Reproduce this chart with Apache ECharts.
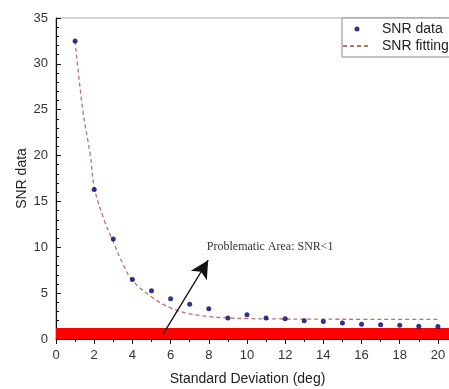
<!DOCTYPE html>
<html>
<head>
    <meta charset="utf-8">
    <title>SNR vs Standard Deviation</title>
    <script src="https://cdn.jsdelivr.net/npm/echarts@6/dist/echarts.min.js"></script>
    <style>
        html, body { margin: 0; padding: 0; background: #fff; }
    </style>
</head>
<body>
    <div id="main" style="width: 449px;height:389px;"></div>
    <script type="text/javascript">

    // measured SNR points
    var stdDev = [1, 2, 3, 4, 5, 6, 7, 8, 9, 10, 11, 12, 13, 14, 15, 16, 17, 18, 19, 20];
    var snrData = [32.5, 16.3, 10.9, 6.5, 5.25, 4.4, 3.8, 3.3, 2.3, 2.65, 2.3, 2.2, 2.0, 1.9, 1.75, 1.6, 1.55, 1.5, 1.4, 1.35];

    // fitted curve
    var fitX = [1, 1.4, 1.8, 2, 2.5, 3, 3.5, 4, 5, 6, 7, 8, 9, 10, 12, 14, 16, 18, 20];
    var fitY = [32.5, 25, 20, 16.6, 13.1, 10.6, 8.2, 6.4, 4.6, 3.4, 2.75, 2.45, 2.3, 2.22, 2.18, 2.16, 2.15, 2.15, 2.15];

    // arrow pointing at the problematic band
    var arrowFrom = [5.6, 0.5];
    var arrowTo = [7.97, 8.6];
    var noteAt = [7.9, 10.0];
    var noteText = 'Problematic Area: SNR<1';
    var bandY = [0, 1.2];

    var myChart = echarts.init(document.getElementById('main'));

    var option = {
        animation: false,
        grid: {
            left: 56, top: 18, width: 401, bottom: 50,
            outerBoundsMode: 'none',
            show: true, borderColor: '#aaa', borderWidth: 1
        },
        legend: {
            left: 342, top: 18,
            orient: 'vertical',
            backgroundColor: '#fff',
            borderColor: '#888', borderWidth: 1, borderRadius: 0,
            padding: [4, 10, 4, 0],
            itemWidth: 28, itemHeight: 5, itemGap: 3,
            textStyle: { fontFamily: 'Arial', fontSize: 14, color: '#222', padding: [0, 0, 0, 6] },
            data: [
                { name: 'SNR data', icon: 'circle' },
                { name: 'SNR fitting', itemStyle: { opacity: 0 } }
            ]
        },
        xAxis: {
            type: 'value',
            min: 0, max: 21, interval: 2,
            name: 'Standard Deviation (deg)',
            nameLocation: 'middle', nameGap: 33,
            nameTextStyle: { fontFamily: 'Arial', fontSize: 14, color: '#222', padding: [0, 18, 0, 0] },
            axisLine: { lineStyle: { color: '#111', width: 1.2 } },
            axisTick: { inside: false, length: 5, lineStyle: { color: '#111' } },
            minorTick: { show: true, splitNumber: 2, length: 3, lineStyle: { color: '#111' } },
            axisLabel: { fontFamily: 'Arial', fontSize: 13, color: '#333', margin: 10, showMaxLabel: false },
            splitLine: { show: false }
        },
        yAxis: {
            type: 'value',
            min: 0, max: 35, interval: 5,
            name: 'SNR data',
            nameLocation: 'middle', nameGap: 27, nameRotate: 90,
            nameMoveOverlap: false,
            nameTextStyle: { fontFamily: 'Arial', fontSize: 14, color: '#222' },
            axisLine: { lineStyle: { color: '#111', width: 1.2 } },
            axisTick: { inside: true, length: 5, lineStyle: { color: '#111' } },
            minorTick: { show: true, splitNumber: 5, length: 3, lineStyle: { color: '#111' } },
            axisLabel: { fontFamily: 'Arial', fontSize: 13, color: '#333', margin: 8 },
            splitLine: { show: false }
        },
        series: [
            {
                name: 'SNR data',
                type: 'scatter',
                symbolSize: 5,
                itemStyle: { color: '#000070' },
                data: stdDev.map(function (x, i) { return [x, snrData[i]]; }),
                z: 4
            },
            {
                name: 'SNR fitting',
                type: 'line',
                smooth: 0.4,
                showSymbol: false,
                symbol: 'none',
                lineStyle: { color: '#c0706a', width: 1.3, type: [4, 3] },
                itemStyle: { color: '#e07070' },
                data: fitX.map(function (x, i) { return [x, fitY[i]]; }),
                z: 3,
                markArea: {
                    silent: true,
                    itemStyle: { color: '#ff0000', opacity: 1 },
                    data: [[{ coord: [0, bandY[0]] }, { coord: [21, bandY[1]] }]]
                },
                markLine: {
                    silent: true,
                    symbol: ['none', 'arrow'],
                    symbolSize: [14, 18],
                    lineStyle: { color: '#111', width: 1.3, type: 'solid' },
                    label: { show: false },
                    data: [[{ coord: arrowFrom }, { coord: arrowTo }]]
                },
                markPoint: {
                    silent: true,
                    symbol: 'circle', symbolSize: 0,
                    label: {
                        show: true, position: 'right', distance: 0,
                        formatter: noteText,
                        fontFamily: 'Liberation Serif', fontSize: 12, color: '#333'
                    },
                    data: [{ coord: noteAt }]
                }
            }
        ]
    };

    myChart.setOption(option);
    </script>
</body>
</html>
